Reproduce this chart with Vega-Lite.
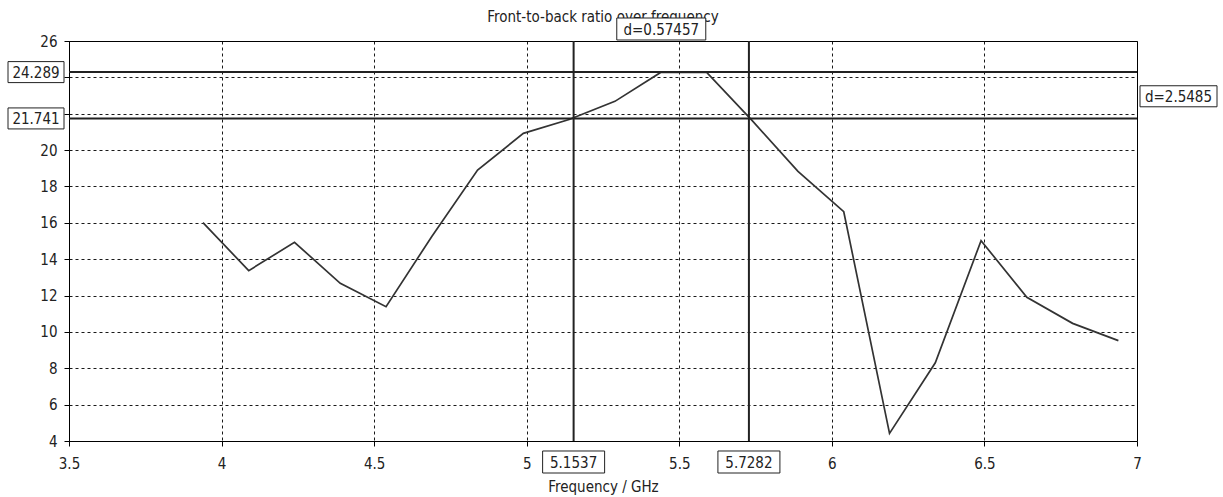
{
  "$schema": "https://vega.github.io/schema/vega-lite/v6.json",
  "width": 1068,
  "height": 400,
  "autosize": "none",
  "padding": {"left": 69, "top": 41, "right": 86, "bottom": 56},
  "background": "white",
  "config": {
    "font": "DejaVu Sans Condensed, DejaVu Sans, sans-serif",
    "view": {"stroke": "black", "strokeWidth": 1},
    "axis": {
      "grid": true,
      "gridColor": "black",
      "gridDash": [3, 3],
      "gridWidth": 1,
      "gridOpacity": 0.9,
      "domain": false,
      "tickColor": "black",
      "tickSize": 5,
      "labelFontSize": 15,
      "labelColor": "#222",
      "titleFontSize": 15,
      "titleFontWeight": "normal",
      "titleColor": "#222",
      "labelFlush": false,
      "labelOverlap": false
    }
  },
  "datasets": {
    "series": [
      {"f": 3.939, "r": 16.01},
      {"f": 4.089, "r": 13.37},
      {"f": 4.239, "r": 14.93},
      {"f": 4.389, "r": 12.67},
      {"f": 4.539, "r": 11.39},
      {"f": 4.689, "r": 15.25},
      {"f": 4.839, "r": 18.9},
      {"f": 4.989, "r": 20.92},
      {"f": 5.139, "r": 21.68},
      {"f": 5.289, "r": 22.68},
      {"f": 5.439, "r": 24.27},
      {"f": 5.589, "r": 24.289},
      {"f": 5.739, "r": 21.62},
      {"f": 5.889, "r": 18.83},
      {"f": 6.039, "r": 16.61},
      {"f": 6.189, "r": 4.42},
      {"f": 6.339, "r": 8.3},
      {"f": 6.489, "r": 15.02},
      {"f": 6.639, "r": 11.9},
      {"f": 6.789, "r": 10.47},
      {"f": 6.939, "r": 9.52}
    ],
    "vmarkers": [{"f": 5.1537}, {"f": 5.7282}],
    "hmarkers": [{"r": 24.289}, {"r": 21.741}],
    "labels": [
      {"f": 5.25, "r": 26, "label": "Front-to-back ratio over frequency", "group": "title"},
      {"f": 3.5, "r": 24.289, "label": "24.289", "group": "left"},
      {"f": 3.5, "r": 21.741, "label": "21.741", "group": "left"},
      {"f": 5.1537, "r": 4, "label": "5.1537", "group": "bottom"},
      {"f": 5.7282, "r": 4, "label": "5.7282", "group": "bottom"},
      {"f": 5.44095, "r": 26, "label": "d=0.57457", "group": "top"},
      {"f": 7, "r": 23.015, "label": "d=2.5485", "group": "right"}
    ]
  },
  "layer": [
    {
      "data": {"name": "series"},
      "mark": {"type": "line", "color": "#333", "strokeWidth": 1.7},
      "encoding": {
        "x": {
          "field": "f",
          "type": "quantitative",
          "scale": {"domain": [3.5, 7], "nice": false, "zero": false},
          "axis": {"values": [3.5, 4, 4.5, 5, 5.5, 6, 6.5, 7], "format": "~g", "title": "Frequency / GHz", "labelPadding": 10, "titlePadding": 8}
        },
        "y": {
          "field": "r",
          "type": "quantitative",
          "scale": {"domain": [4, 26], "nice": false, "zero": false},
          "axis": {"values": [4, 6, 8, 10, 12, 14, 16, 18, 20, 22, 24, 26], "format": "~g", "title": null, "labelPadding": 7, "labelExpr": "datum.value == 22 || datum.value == 24 ? '' : datum.label"}
        }
      }
    },
    {
      "data": {"name": "vmarkers"},
      "mark": {"type": "rule", "color": "#222", "strokeWidth": 2},
      "encoding": {
        "x": {"field": "f", "type": "quantitative", "axis": {"values": [3.5, 4, 4.5, 5, 5.5, 6, 6.5, 7], "format": "~g", "title": "Frequency / GHz", "labelPadding": 10, "titlePadding": 8}}
      }
    },
    {
      "data": {"name": "hmarkers"},
      "mark": {"type": "rule", "color": "#222", "strokeWidth": 2},
      "encoding": {
        "y": {"field": "r", "type": "quantitative", "axis": {"values": [4, 6, 8, 10, 12, 14, 16, 18, 20, 22, 24, 26], "format": "~g", "title": null, "labelPadding": 7, "labelExpr": "datum.value == 22 || datum.value == 24 ? '' : datum.label"}}
      }
    },
    {
      "data": {"name": "labels"},
      "transform": [{"filter": "datum.group === 'title'"}],
      "mark": {"type": "text", "fontSize": 15, "color": "#222", "align": "center", "baseline": "alphabetic", "dy": -19, "clip": false},
      "encoding": {
        "x": {"field": "f", "type": "quantitative", "axis": {"values": [3.5, 4, 4.5, 5, 5.5, 6, 6.5, 7], "format": "~g", "title": "Frequency / GHz", "labelPadding": 10, "titlePadding": 8}},
        "y": {"field": "r", "type": "quantitative", "axis": {"values": [4, 6, 8, 10, 12, 14, 16, 18, 20, 22, 24, 26], "format": "~g", "title": null, "labelPadding": 7, "labelExpr": "datum.value == 22 || datum.value == 24 ? '' : datum.label"}},
        "text": {"field": "label", "type": "nominal"}
      }
    },
    {
      "data": {"name": "labels"},
      "transform": [{"filter": "datum.group === 'left'"}],
      "layer": [
        {"mark": {"type": "point", "shape": "M-1,-0.375L1,-0.375L1,0.375L-1,0.375Z", "size": 3136, "filled": true, "fill": "white", "stroke": "#222", "strokeWidth": 1, "opacity": 1, "xOffset": -33, "clip": false}},
        {"mark": {"type": "text", "fontSize": 15, "color": "#222", "align": "center", "baseline": "middle", "dx": -33, "dy": 1, "clip": false}, "encoding": {"text": {"field": "label", "type": "nominal"}}}
      ],
      "encoding": {
        "x": {"field": "f", "type": "quantitative", "axis": {"values": [3.5, 4, 4.5, 5, 5.5, 6, 6.5, 7], "format": "~g", "title": "Frequency / GHz", "labelPadding": 10, "titlePadding": 8}},
        "y": {"field": "r", "type": "quantitative", "axis": {"values": [4, 6, 8, 10, 12, 14, 16, 18, 20, 22, 24, 26], "format": "~g", "title": null, "labelPadding": 7, "labelExpr": "datum.value == 22 || datum.value == 24 ? '' : datum.label"}}
      }
    },
    {
      "data": {"name": "labels"},
      "transform": [{"filter": "datum.group === 'bottom'"}],
      "layer": [
        {"mark": {"type": "point", "shape": "M-1,-0.355L1,-0.355L1,0.355L-1,0.355Z", "size": 3844, "filled": true, "fill": "white", "stroke": "#222", "strokeWidth": 1, "opacity": 1, "yOffset": 21, "clip": false}},
        {"mark": {"type": "text", "fontSize": 15, "color": "#222", "align": "center", "baseline": "middle", "dy": 22, "clip": false}, "encoding": {"text": {"field": "label", "type": "nominal"}}}
      ],
      "encoding": {
        "x": {"field": "f", "type": "quantitative", "axis": {"values": [3.5, 4, 4.5, 5, 5.5, 6, 6.5, 7], "format": "~g", "title": "Frequency / GHz", "labelPadding": 10, "titlePadding": 8}},
        "y": {"field": "r", "type": "quantitative", "axis": {"values": [4, 6, 8, 10, 12, 14, 16, 18, 20, 22, 24, 26], "format": "~g", "title": null, "labelPadding": 7, "labelExpr": "datum.value == 22 || datum.value == 24 ? '' : datum.label"}}
      }
    },
    {
      "data": {"name": "labels"},
      "transform": [{"filter": "datum.group === 'top'"}],
      "layer": [
        {"mark": {"type": "point", "shape": "M-1,-0.247L1,-0.247L1,0.247L-1,0.247Z", "size": 7921, "filled": true, "fill": "white", "stroke": "#222", "strokeWidth": 1, "opacity": 1, "yOffset": -12, "clip": false}},
        {"mark": {"type": "text", "fontSize": 15, "color": "#222", "align": "center", "baseline": "middle", "dy": -11, "clip": false}, "encoding": {"text": {"field": "label", "type": "nominal"}}}
      ],
      "encoding": {
        "x": {"field": "f", "type": "quantitative", "axis": {"values": [3.5, 4, 4.5, 5, 5.5, 6, 6.5, 7], "format": "~g", "title": "Frequency / GHz", "labelPadding": 10, "titlePadding": 8}},
        "y": {"field": "r", "type": "quantitative", "axis": {"values": [4, 6, 8, 10, 12, 14, 16, 18, 20, 22, 24, 26], "format": "~g", "title": null, "labelPadding": 7, "labelExpr": "datum.value == 22 || datum.value == 24 ? '' : datum.label"}}
      }
    },
    {
      "data": {"name": "labels"},
      "transform": [{"filter": "datum.group === 'right'"}],
      "layer": [
        {"mark": {"type": "point", "shape": "M-1,-0.273L1,-0.273L1,0.273L-1,0.273Z", "size": 5929, "filled": true, "fill": "white", "stroke": "#222", "strokeWidth": 1, "opacity": 1, "xOffset": 41.5, "yOffset": 1, "clip": false}},
        {"mark": {"type": "text", "fontSize": 15, "color": "#222", "align": "center", "baseline": "middle", "dx": 41.5, "dy": 2, "clip": false}, "encoding": {"text": {"field": "label", "type": "nominal"}}}
      ],
      "encoding": {
        "x": {"field": "f", "type": "quantitative", "axis": {"values": [3.5, 4, 4.5, 5, 5.5, 6, 6.5, 7], "format": "~g", "title": "Frequency / GHz", "labelPadding": 10, "titlePadding": 8}},
        "y": {"field": "r", "type": "quantitative", "axis": {"values": [4, 6, 8, 10, 12, 14, 16, 18, 20, 22, 24, 26], "format": "~g", "title": null, "labelPadding": 7, "labelExpr": "datum.value == 22 || datum.value == 24 ? '' : datum.label"}}
      }
    }
  ]
}
